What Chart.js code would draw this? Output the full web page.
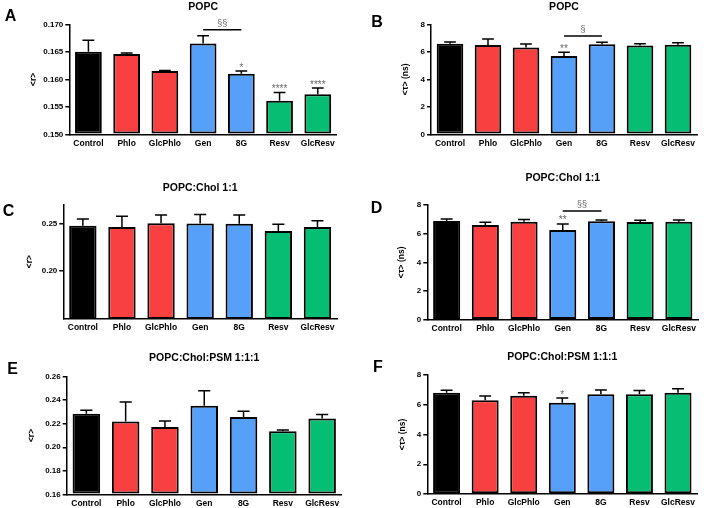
<!DOCTYPE html>
<html><head><meta charset="utf-8">
<script src="https://cdn.jsdelivr.net/npm/chart.js@4/dist/chart.umd.min.js"></script>
<style>
html,body{margin:0;padding:0;background:#fff;}
#wrap{position:relative;width:708px;height:508px;overflow:hidden;background:#fff;}
canvas{position:absolute;}
</style></head><body><div id="wrap"></div>
<script>
// ---------- data ----------
const categories = ['Control','Phlo','GlcPhlo','Gen','8G','Resv','GlcResv'];
const barColors = ['#000000','#F94040','#F94040','#56A0FA','#56A0FA','#05BE74','#05BE74'];

const valuesA = [0.1650, 0.1646, 0.1615, 0.1665, 0.1610, 0.1561, 0.1573];
const errorsA = [0.0021, 0.0002, 0.0001, 0.0014, 0.0005, 0.0015, 0.0011];
const ticksA  = ['0.150','0.155','0.160','0.165','0.170'];
const starsA  = ['', '', '', '', '*', '****', '****'];

const valuesB = [6.59, 6.50, 6.32, 5.70, 6.55, 6.45, 6.52];
const errorsB = [0.12, 0.43, 0.24, 0.27, 0.14, 0.14, 0.14];
const ticksB  = ['0','2','4','6','8'];
const starsB  = ['', '', '', '**', '', '', ''];

const valuesC = [0.2476, 0.2462, 0.2503, 0.2500, 0.2497, 0.2420, 0.2462];
const errorsC = [0.0070, 0.0114, 0.0084, 0.0094, 0.0090, 0.0070, 0.0066];
const ticksC  = ['0.20','0.25'];
const starsC  = ['', '', '', '', '', '', ''];

const valuesD = [6.88, 6.61, 6.84, 6.26, 6.86, 6.81, 6.84];
const errorsD = [0.14, 0.18, 0.14, 0.42, 0.09, 0.12, 0.11];
const ticksD  = ['0','2','4','6','8'];
const starsD  = ['', '', '', '**', '', '', ''];

const valuesE = [0.2286, 0.2218, 0.2172, 0.2354, 0.2258, 0.2136, 0.2244];
const errorsE = [0.0028, 0.0167, 0.0051, 0.0127, 0.0048, 0.0011, 0.0034];
const ticksE  = ['0.16','0.18','0.20','0.22','0.24','0.26'];
const starsE  = ['', '', '', '', '', '', ''];

const valuesF = [6.81, 6.30, 6.61, 6.14, 6.70, 6.70, 6.81];
const errorsF = [0.16, 0.29, 0.20, 0.31, 0.29, 0.25, 0.27];
const ticksF  = ['0','2','4','6','8'];
const starsF  = ['', '', '', '*', '', '', ''];

const bracketA = {from: 3, to: 4, value: 0.1690, text: '§§'};
const bracketB = {from: 3, to: 4, value: 7.15, text: '§'};
const bracketD = {from: 3, to: 4, value: 7.58, text: '§§'};

const FONT = '"Liberation Sans", Arial, Helvetica, sans-serif';

const panels = [
  {letter:'A', title:'POPC', yTitle:'<r>', values:valuesA, errors:errorsA, ticks:ticksA, stars:starsA, bracket:bracketA, min:0.150, max:0.170},
  {letter:'B', title:'POPC', yTitle:'<τ> (ns)', values:valuesB, errors:errorsB, ticks:ticksB, stars:starsB, bracket:bracketB, min:0, max:8},
  {letter:'C', title:'POPC:Chol 1:1', yTitle:'<r>', values:valuesC, errors:errorsC, ticks:ticksC, stars:starsC, bracket:null, min:0.15, max:0.27},
  {letter:'D', title:'POPC:Chol 1:1', yTitle:'<τ> (ns)', values:valuesD, errors:errorsD, ticks:ticksD, stars:starsD, bracket:bracketD, min:0, max:8},
  {letter:'E', title:'POPC:Chol:PSM 1:1:1', yTitle:'<r>', values:valuesE, errors:errorsE, ticks:ticksE, stars:starsE, bracket:null, min:0.16, max:0.26},
  {letter:'F', title:'POPC:Chol:PSM 1:1:1', yTitle:'<τ> (ns)', values:valuesF, errors:errorsF, ticks:ticksF, stars:starsF, bracket:null, min:0, max:8}
];

// ---------- layout (page pixels) ----------
const boxes = [
  {x:0,   y:0,   w:354, h:168, left:69.3,  top:24.3,  right:336.9, bottom:134.3, titleY:7.3,   yTitleX:34,    lx:10.5, ly:16},
  {x:354, y:0,   w:354, h:168, left:431,   top:24.3,  right:697,   bottom:134.3, titleY:7.3,   yTitleX:406,   lx:377,  ly:22},
  {x:0,   y:168, w:354, h:170, left:63.3,  top:204.3, right:337,   bottom:319,   titleY:188.3, yTitleX:30,    lx:8.5,  ly:211},
  {x:354, y:168, w:354, h:170, left:427.3, top:205,   right:698.2, bottom:319.7, titleY:178.3, yTitleX:401.7, lx:376.5,ly:208},
  {x:0,   y:338, w:354, h:170, left:66.7,  top:376.7, right:341.8, bottom:494.3, titleY:358.3, yTitleX:31.7,  lx:12.5, ly:369},
  {x:354, y:338, w:354, h:170, left:427.3, top:375,   right:697.3, bottom:494,   titleY:357.3, yTitleX:403,   lx:378,  ly:367}
];

const wrap = document.getElementById('wrap');

function makeChart(d, p) {
  const c = document.createElement('canvas');
  c.width = p.w; c.height = p.h;
  c.style.left = p.x + 'px'; c.style.top = p.y + 'px';
  c.style.width = p.w + 'px'; c.style.height = p.h + 'px';
  wrap.appendChild(c);
  const tickVals = d.ticks.map(Number);
  const lh = 1.2, tSize = 10.5, ySize = 8.5;
  const tTop = p.titleY - p.y - tSize * lh / 2;
  const tBottom = (p.top - p.y) - tTop - tSize * lh;

  const extras = {
    id: 'extras' + d.letter,
    afterDatasetsDraw(chart) {
      const ctx = chart.ctx;
      const meta = chart.getDatasetMeta(0);
      const ys = chart.scales.y;
      ctx.save();
      ctx.strokeStyle = '#000';
      ctx.lineWidth = 1.5;
      meta.data.forEach((bar, i) => {
        const yTop = ys.getPixelForValue(d.values[i]);
        const yErr = ys.getPixelForValue(d.values[i] + d.errors[i]);
        const half = bar.width * 0.22;
        ctx.beginPath();
        ctx.moveTo(bar.x, yTop); ctx.lineTo(bar.x, yErr);
        ctx.moveTo(bar.x - half, yErr); ctx.lineTo(bar.x + half, yErr);
        ctx.stroke();
        if (d.stars[i]) {
          ctx.fillStyle = '#666';
          ctx.font = '10px ' + FONT;
          ctx.textAlign = 'center';
          ctx.textBaseline = 'alphabetic';
          ctx.fillText(d.stars[i], bar.x, yErr - 0.5);
        }
      });
      if (d.bracket) {
        const b = d.bracket;
        const x1 = meta.data[b.from].x, x2 = meta.data[b.to].x;
        const yb = ys.getPixelForValue(b.value);
        ctx.beginPath();
        ctx.moveTo(x1, yb); ctx.lineTo(x2, yb);
        ctx.stroke();
        ctx.fillStyle = '#666';
        ctx.font = '9px ' + FONT;
        ctx.textAlign = 'center';
        ctx.textBaseline = 'alphabetic';
        ctx.fillText(b.text, (x1 + x2) / 2, yb - 4);
      }
      ctx.fillStyle = '#000';
      ctx.font = 'bold 16px ' + FONT;
      ctx.textAlign = 'center';
      ctx.textBaseline = 'middle';
      ctx.fillText(d.letter, p.lx - p.x, p.ly - p.y + 1);
      ctx.restore();
    }
  };

  new Chart(c, {
    type: 'bar',
    data: {
      labels: categories,
      datasets: [{
        data: d.values,
        backgroundColor: barColors,
        borderColor: '#000',
        borderWidth: 2,
        borderSkipped: false,
        barPercentage: 0.7,
        categoryPercentage: 1,
        base: d.min
      }]
    },
    options: {
      responsive: false,
      animation: false,
      devicePixelRatio: 1,
      layout: {padding: {left: 0, top: 0, right: p.x + p.w - p.right, bottom: 0}},
      plugins: {
        legend: {display: false},
        tooltip: {enabled: false},
        title: {
          display: true, text: d.title, fullSize: false, color: '#000',
          font: {family: FONT, size: tSize, weight: 'bold', lineHeight: lh},
          padding: {top: tTop, bottom: tBottom}
        }
      },
      scales: {
        x: {
          grid: {display: false, drawTicks: false},
          border: {display: true, color: '#000', width: 1.5},
          ticks: {color: '#000', font: {family: FONT, size: 8.5, weight: 'bold'}, padding: 4, maxRotation: 0, autoSkip: false},
          afterFit: s => { s.height = p.y + p.h - p.bottom; }
        },
        y: {
          min: d.min, max: d.max,
          grid: {drawOnChartArea: false, drawTicks: true, tickLength: 4, color: '#000', lineWidth: 1.5},
          border: {display: true, color: '#000', width: 1.5},
          ticks: {color: '#000', font: {family: FONT, size: 8, weight: 'bold'}, padding: 2,
                  callback: (v, i) => d.ticks[i]},
          afterBuildTicks: s => { s.ticks = tickVals.map(v => ({value: v})); },
          afterFit: s => { s.width = p.left - p.x; },
          title: {display: true, text: d.yTitle, color: '#000',
                  font: {family: FONT, size: ySize, weight: 'bold', lineHeight: lh},
                  padding: {top: p.yTitleX - p.x - ySize * lh / 2, bottom: 0}}
        }
      }
    },
    plugins: [extras]
  });
}

panels.forEach((d, i) => makeChart(d, boxes[i]));
</script>
</body></html>
